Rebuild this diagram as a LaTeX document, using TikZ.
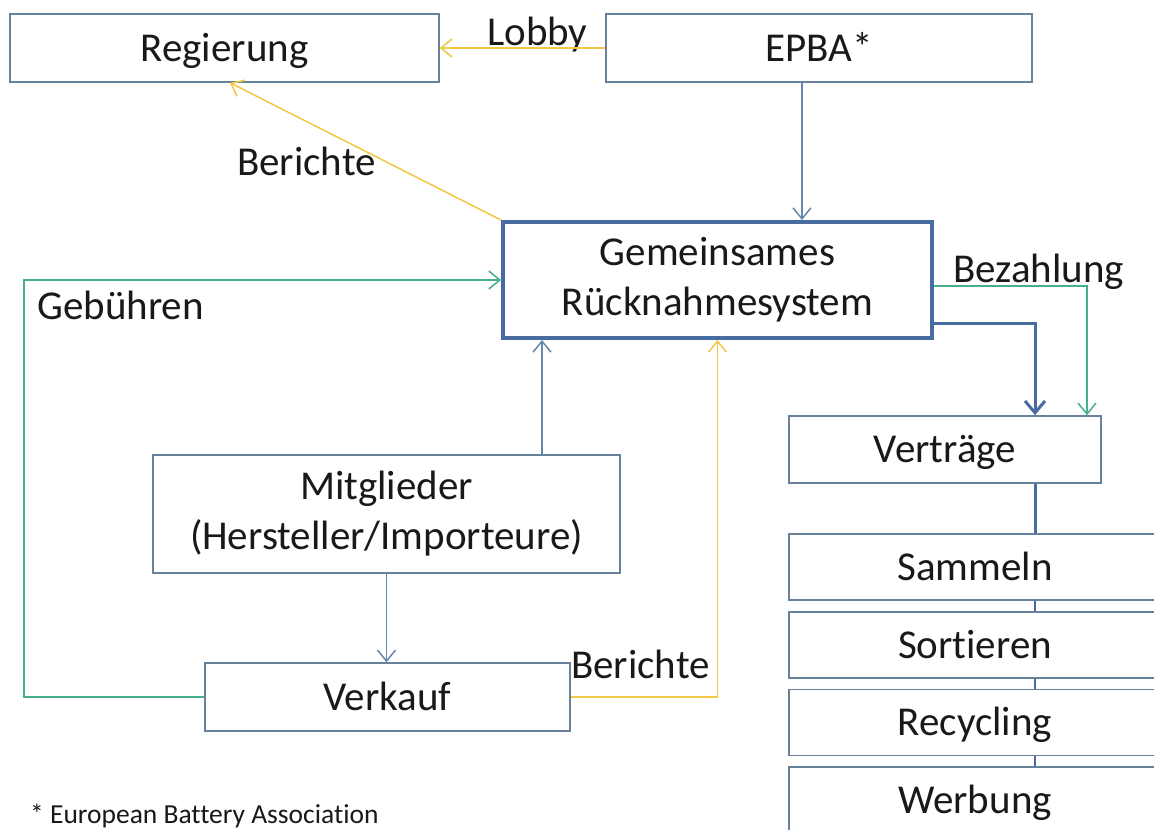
\documentclass[tikz,border=0pt]{standalone}
\usepackage{fontspec}
\setmainfont{Carlito}[Ligatures=NoCommon]
\usetikzlibrary{arrows.meta,calc}

\definecolor{boxline}{RGB}{105,130,155}
\definecolor{mainline}{RGB}{72,108,160}
\definecolor{flowblue}{RGB}{100,135,170}
\definecolor{reportyellow}{RGB}{240,200,70}
\definecolor{moneygreen}{RGB}{72,175,140}
\definecolor{textdark}{RGB}{25,25,25}

\tikzset{
  bigtext/.style={font=\fontsize{41}{50}\selectfont, text=textdark},
  basebox/.style={bigtext, draw=boxline, line width=1.5pt, fill=white,
    rectangle, inner sep=0pt},
  onebox/.style={basebox, text height=26pt, text depth=0pt},
  twobox/.style={basebox, align=center},
  mainbox/.style={twobox, draw=mainline, line width=4pt},
  lbl/.style={bigtext, inner sep=0pt},
  arr/.style={line width=1.5pt,
    -{Straight Barb[length=11pt,width=18pt]}},
}

\begin{document}
\begin{tikzpicture}[x=1pt,y=-1pt]
\useasboundingbox (0,0) rectangle (1154,830);
\fill[white] (0,0) rectangle (1154,830);

% organisations
\node[onebox, minimum width=429pt, minimum height=68pt] (reg)  at (224.5,48) {Regierung};
\node[onebox, minimum width=426pt, minimum height=68pt] (epba) at (819,48) {EPBA*};
\node[mainbox, minimum width=429pt, minimum height=116pt] (grs) at (717.5,280)
  {Gemeinsames\\Rücknahmesystem};
\node[twobox, minimum width=467pt, minimum height=118pt] (mit) at (386.5,514)
  {Mitglieder\\(Hersteller/Importeure)};
\node[onebox, minimum width=365pt, minimum height=68pt] (verk) at (387.5,697) {Verkauf};

% contracted services
\node[onebox, minimum width=312pt, minimum height=67pt] (vert) at (945,449.5) {Verträge};
\node[onebox, minimum width=372pt, minimum height=66pt] (sam)  at (975,567) {Sammeln};
\node[onebox, minimum width=372pt, minimum height=66pt] (sort) at (975,645) {Sortieren};
\node[onebox, minimum width=372pt, minimum height=66pt] (rec)  at (975,722.5) {Recycling};
\node[onebox, minimum width=372pt, minimum height=66pt] (werb) at (975,800) {Werbung};

% flow labels
\node[lbl, anchor=base west] (lobbylbl) at (487,45) {Lobby};
\node[lbl, anchor=base west] (berlbl1)  at (237,175) {Berichte};
\node[lbl, anchor=base west] (geblbl)   at (37,319) {Gebühren};
\node[lbl, anchor=base west] (bezlbl)   at (953,282) {Bezahlung};
\node[lbl, anchor=base east] (berlbl2)  at (710,678) {Berichte};

% lobbying and reports to the government
\draw[arr, draw=reportyellow] (epba.west) -- (reg.east);
\draw[arr, draw=reportyellow] (grs.north west) -- ([xshift=5.5pt]reg.south);

% EPBA feeds the take-back system
\draw[arr, draw=flowblue] ([xshift=-17pt]epba.south) -- ([xshift=-17pt]epba.south |- grs.north);

% fees paid on sales
\coordinate (feecorner) at (24,697);
\draw[arr, draw=moneygreen] (verk.west) -- (feecorner) |- (grs.west);

% members
\draw[arr, draw=flowblue] ([xshift=155.5pt]mit.north) -- ([xshift=155.5pt]mit.north |- grs.south);
\draw[arr, draw=flowblue] (mit.south) -- (mit.south |- verk.north);

% sales reports
\draw[arr, draw=reportyellow] (verk.east) -| (grs.south);

% payment and contracts
\draw[arr, draw=moneygreen] ([yshift=-6pt]grs.east) -| ([xshift=142pt]vert.north);
\draw[line width=3pt, draw=mainline, -{Straight Barb[length=12pt,width=20pt]}]
  ([yshift=-43pt]grs.east) -| ([xshift=90pt]vert.north);

% chain of services
\draw[line width=3pt, draw=mainline] ([xshift=90pt]vert.south) -- ([xshift=60pt]sam.north);
\foreach \a/\b in {sam/sort, sort/rec, rec/werb}
  \draw[line width=2.5pt, draw=mainline] ([xshift=60pt]\a.south) -- ([xshift=60pt]\b.north);

% footnote
\node[font=\fontsize{27.5}{32}\selectfont, text=textdark, inner sep=0pt, anchor=base west]
  (note) at (30,823) {* European Battery Association};
\end{tikzpicture}
\end{document}
